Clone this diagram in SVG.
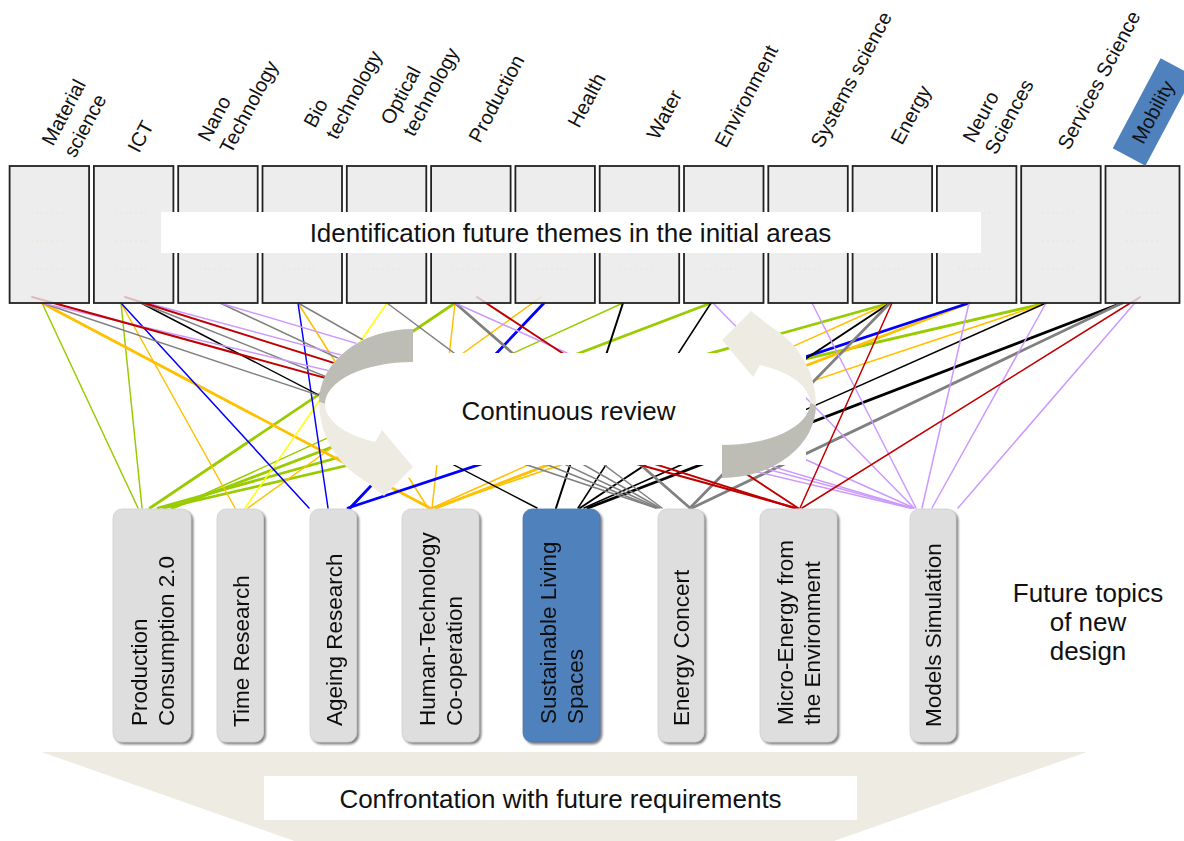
<svg xmlns="http://www.w3.org/2000/svg" width="1184" height="841" viewBox="0 0 1184 841">
  <defs>
    <style>
      .lbl { font-family: "Liberation Sans", Arial, sans-serif; font-size: 20px; fill: #111; }
      .big { font-family: "Liberation Sans", Arial, sans-serif; font-size: 26px; fill: #111; }
      .topic { font-family: "Liberation Sans", Arial, sans-serif; font-size: 22.5px; fill: #111; }
      .area { fill: #E8E8E8; fill-opacity: 0.8; stroke: #222; stroke-width: 1.8; }
      .dots { stroke: #E6E6D2; stroke-width: 1; stroke-dasharray: 2 3; }
      .node { fill: #DEDEDE; stroke: #D0D0D0; stroke-width: 0.8; }
      .node-hi { fill: #4F81BD; stroke: #4A78AE; stroke-width: 0.8; }
      #connectors line { fill: none; stroke-linecap: round; }
      .green { stroke: #99CC00; }
      .orange { stroke: #FFC000; }
      .yellow { stroke: #FFFF00; }
      .blue { stroke: #0000FF; }
      .black { stroke: #000000; }
      .grey { stroke: #808080; }
      .lav { stroke: #CC99FF; }
      .red { stroke: #C00000; }
      .w1 { stroke-width: 1.5; }
      .w2 { stroke-width: 2; }
      .w3 { stroke-width: 2.8; }
    </style>
    <filter id="shade" x="-10%" y="-5%" width="130%" height="115%">
      <feGaussianBlur in="SourceAlpha" stdDeviation="1.2"/>
      <feOffset dx="2" dy="2" result="off"/>
      <feFlood flood-color="#808080"/>
      <feComposite in2="off" operator="in"/>
      <feMerge><feMergeNode/><feMergeNode in="SourceGraphic"/></feMerge>
    </filter>
  </defs>

  <rect width="1184" height="841" fill="#FFFFFF"/>

  <!-- links between the initial areas and the future topics -->
  <g id="connectors">
    <!-- green: to Production Consumption 2.0 -->
    <line class="green w1" x1="42" y1="303" x2="138" y2="508"/>
    <line class="green w1" x1="121" y1="303" x2="142" y2="508"/>
    <line class="green w3" x1="455" y1="303" x2="150" y2="508"/>
    <line class="green w1" x1="623" y1="303" x2="174" y2="508"/>
    <line class="green w3" x1="711" y1="303" x2="172" y2="508"/>
    <line class="green w3" x1="890" y1="303" x2="158" y2="508"/>
    <line class="green w3" x1="1046" y1="303" x2="164" y2="508"/>
    <!-- orange / yellow: to Time Research and Human-Technology -->
    <line class="orange w3" x1="42" y1="303" x2="430" y2="508"/>
    <line class="orange w1" x1="121" y1="303" x2="235" y2="508"/>
    <line class="orange w1" x1="298" y1="303" x2="428" y2="508"/>
    <line class="orange w1" x1="455" y1="303" x2="432" y2="508"/>
    <line class="orange w1" x1="541" y1="297" x2="248" y2="508"/>
    <line class="orange w1" x1="890" y1="303" x2="432" y2="508"/>
    <line class="orange w3" x1="969" y1="303" x2="436" y2="508"/>
    <line class="orange w1" x1="1046" y1="303" x2="432" y2="508"/>
    <line class="yellow w1" x1="387" y1="303" x2="245" y2="508"/>
    <!-- blue: to Ageing Research -->
    <line class="blue w1" x1="121" y1="303" x2="309" y2="508"/>
    <line class="blue w1" x1="298" y1="303" x2="328" y2="508"/>
    <line class="blue w3" x1="544" y1="303" x2="350" y2="508"/>
    <line class="blue w3" x1="969" y1="303" x2="348" y2="508"/>
    <!-- black: to Sustainable Living Spaces -->
    <line class="black w1" x1="141" y1="303" x2="537" y2="508"/>
    <line class="black w2" x1="623" y1="303" x2="556" y2="508"/>
    <line class="black w1" x1="711" y1="303" x2="578" y2="508"/>
    <line class="black w2" x1="890" y1="303" x2="580" y2="508"/>
    <line class="black w1" x1="1046" y1="303" x2="584" y2="508"/>
    <line class="black w3" x1="1122" y1="303" x2="588" y2="508"/>
    <!-- grey: to Energy Concert -->
    <line class="grey w1" x1="42" y1="303" x2="656" y2="508"/>
    <line class="grey w1" x1="141" y1="303" x2="656" y2="508"/>
    <line class="grey w1" x1="220" y1="303" x2="658" y2="508"/>
    <line class="grey w1" x1="298" y1="303" x2="660" y2="508"/>
    <line class="grey w1" x1="387" y1="303" x2="662" y2="508"/>
    <line class="grey w3" x1="455" y1="303" x2="690" y2="508"/>
    <line class="grey w3" x1="890" y1="303" x2="690" y2="508"/>
    <line class="grey w3" x1="1122" y1="303" x2="692" y2="508"/>
    <!-- lavender: to Models Simulation -->
    <line class="lav w1" x1="42" y1="303" x2="910" y2="508"/>
    <line class="lav w1" x1="147" y1="303" x2="912" y2="508"/>
    <line class="lav w1" x1="220" y1="303" x2="912" y2="508"/>
    <line class="lav w1" x1="455" y1="303" x2="914" y2="508"/>
    <line class="lav w1" x1="713" y1="303" x2="914" y2="508"/>
    <line class="lav w1" x1="812" y1="303" x2="916" y2="508"/>
    <line class="lav w1" x1="969" y1="303" x2="922" y2="508"/>
    <line class="lav w1" x1="1046" y1="303" x2="932" y2="508"/>
    <line class="lav w1" x1="1140" y1="297" x2="958" y2="508"/>
    <!-- red: to Micro-Energy from the Environment -->
    <line class="red w2" x1="32" y1="297" x2="796" y2="508"/>
    <line class="red w2" x1="125" y1="297" x2="794" y2="508"/>
    <line class="red w2" x1="477" y1="297" x2="798" y2="508"/>
    <line class="red w1" x1="892" y1="303" x2="800" y2="508"/>
    <line class="red w1" x1="1140" y1="297" x2="802" y2="508"/>
  </g>

  <!-- initial areas -->
  <g id="area-material-science">
    <rect class="area" x="9.6" y="166" width="79.5" height="137"/>
    <text class="lbl" transform="translate(53 147) rotate(-62)"><tspan x="0" y="0">Material</tspan><tspan x="0" dy="25">science</tspan></text>
  </g>
  <g id="area-ict">
    <rect class="area" x="93.9" y="166" width="79.5" height="137"/>
    <text class="lbl" transform="translate(139 154) rotate(-62)">ICT</text>
  </g>
  <g id="area-nano-technology">
    <rect class="area" x="178.2" y="166" width="79.5" height="137"/>
    <text class="lbl" transform="translate(209 143) rotate(-62)"><tspan x="0" y="0">Nano</tspan><tspan x="0" dy="25">Technology</tspan></text>
  </g>
  <g id="area-bio-technology">
    <rect class="area" x="262.5" y="166" width="79.5" height="137"/>
    <text class="lbl" transform="translate(315 129) rotate(-62)"><tspan x="0" y="0">Bio</tspan><tspan x="0" dy="25">technology</tspan></text>
  </g>
  <g id="area-optical-technology">
    <rect class="area" x="346.8" y="166" width="79.5" height="137"/>
    <text class="lbl" transform="translate(392 126) rotate(-62)"><tspan x="0" y="0">Optical</tspan><tspan x="0" dy="25">technology</tspan></text>
  </g>
  <g id="area-production">
    <rect class="area" x="431.1" y="166" width="79.5" height="137"/>
    <text class="lbl" transform="translate(480 144) rotate(-62)">Production</text>
  </g>
  <g id="area-health">
    <rect class="area" x="515.4" y="166" width="79.5" height="137"/>
    <text class="lbl" transform="translate(579 129) rotate(-62)">Health</text>
  </g>
  <g id="area-water">
    <rect class="area" x="599.7" y="166" width="79.5" height="137"/>
    <text class="lbl" transform="translate(658 141) rotate(-62)">Water</text>
  </g>
  <g id="area-environment">
    <rect class="area" x="684" y="166" width="79.5" height="137"/>
    <text class="lbl" transform="translate(726 149) rotate(-62)">Environment</text>
  </g>
  <g id="area-systems-science">
    <rect class="area" x="768.3" y="166" width="79.5" height="137"/>
    <text class="lbl" transform="translate(822 149) rotate(-62)">Systems science</text>
  </g>
  <g id="area-energy">
    <rect class="area" x="852.6" y="166" width="79.5" height="137"/>
    <text class="lbl" transform="translate(902 146) rotate(-62)">Energy</text>
  </g>
  <g id="area-neuro-sciences">
    <rect class="area" x="936.9" y="166" width="79.5" height="137"/>
    <text class="lbl" transform="translate(974 144) rotate(-62)"><tspan x="0" y="0">Neuro</tspan><tspan x="0" dy="25">Sciences</tspan></text>
  </g>
  <g id="area-services-science">
    <rect class="area" x="1021.2" y="166" width="79.5" height="137"/>
    <text class="lbl" transform="translate(1069 151) rotate(-62)">Services Science</text>
  </g>
  <g id="area-mobility">
    <rect class="area" x="1105.5" y="166" width="74" height="137"/>
    <g transform="translate(1153 112) rotate(-62)">
      <rect x="-51" y="-18.5" width="102" height="37" fill="#4F81BD"/>
      <text class="lbl" x="0" y="7" text-anchor="middle">Mobility</text>
    </g>
  </g>

  <!-- faint guide dots inside the area columns -->
  <g id="area-dots">
    <path class="dots" d="M31 213H65M31 241H65M31 269H65M115 213H149M115 241H149M115 269H149M199 269H233M283 269H317M367 269H401M452 269H486M536 269H570M620 269H654M705 269H739M789 269H823M873 269H907M958 269H992M1042 269H1076M1126 269H1160M958 213H992M1042 213H1076M1126 213H1160M1042 241H1076M1126 241H1160"/>
  </g>

  <g id="identification-banner">
    <rect x="161" y="212" width="820" height="41" fill="#FFFFFF"/>
    <text class="big" x="570.5" y="241.5" text-anchor="middle">Identification future themes in the initial areas</text>
  </g>

  <!-- review cycle: two curved arrows around a white field -->
  <g id="continuous-review">
    <path d="M413,353 H806 V465 H413 Z M413,328 A94,75 0 0 0 413,478 Z" fill="#FFFFFF"/>
    <g id="arrow-right">
      <path d="M722,445 L722,478 A94,73 0 0 0 816,405 L810,403 A88,42 0 0 1 722,445 Z" fill="#BDBDB5"/>
      <path d="M816,405 A94,92 0 0 0 770,326 L751,311 L722,340 L753,377 L760,365 A88,42 0 0 1 810,403 Z" fill="#EDEBE2"/>
    </g>
    <g id="arrow-left" transform="rotate(180 567.5 403.5)">
      <path d="M722,445 L722,478 A94,73 0 0 0 816,405 L810,403 A88,42 0 0 1 722,445 Z" fill="#BDBDB5"/>
      <path d="M816,405 A94,92 0 0 0 770,326 L751,311 L722,340 L753,377 L760,365 A88,42 0 0 1 810,403 Z" fill="#EDEBE2"/>
    </g>
    <text class="big" x="568.5" y="420" text-anchor="middle">Continuous review</text>
  </g>

  <!-- future topics -->
  <g id="topic-production-consumption" filter="url(#shade)">
    <rect class="node" x="113" y="509" width="78" height="233" rx="9"/>
    <text class="topic" transform="translate(146.7 726) rotate(-90)"><tspan x="0" y="0">Production</tspan><tspan x="0" dy="27">Consumption 2.0</tspan></text>
  </g>
  <g id="topic-time-research" filter="url(#shade)">
    <rect class="node" x="217" y="509" width="46.5" height="233" rx="9"/>
    <text class="topic" transform="translate(248.5 727) rotate(-90)">Time Research</text>
  </g>
  <g id="topic-ageing-research" filter="url(#shade)">
    <rect class="node" x="310" y="509" width="46.7" height="233" rx="9"/>
    <text class="topic" transform="translate(341.6 726) rotate(-90)">Ageing Research</text>
  </g>
  <g id="topic-human-technology" filter="url(#shade)">
    <rect class="node" x="402" y="509" width="77" height="233" rx="9"/>
    <text class="topic" transform="translate(435.2 726) rotate(-90)"><tspan x="0" y="0">Human-Technology</tspan><tspan x="0" dy="27">Co-operation</tspan></text>
  </g>
  <g id="topic-sustainable-living" filter="url(#shade)">
    <rect class="node-hi" x="523" y="509" width="77" height="233" rx="9"/>
    <text class="topic" transform="translate(556.2 724) rotate(-90)"><tspan x="0" y="0">Sustainable Living</tspan><tspan x="0" dy="27">Spaces</tspan></text>
  </g>
  <g id="topic-energy-concert" filter="url(#shade)">
    <rect class="node" x="658" y="509" width="46" height="233" rx="9"/>
    <text class="topic" transform="translate(689.3 726) rotate(-90)">Energy Concert</text>
  </g>
  <g id="topic-micro-energy" filter="url(#shade)">
    <rect class="node" x="760" y="509" width="77" height="233" rx="9"/>
    <text class="topic" transform="translate(793.2 725) rotate(-90)"><tspan x="0" y="0">Micro-Energy from</tspan><tspan x="0" dy="27">the Environment</tspan></text>
  </g>
  <g id="topic-models-simulation" filter="url(#shade)">
    <rect class="node" x="910" y="509" width="46" height="233" rx="9"/>
    <text class="topic" transform="translate(941.3 727) rotate(-90)">Models Simulation</text>
  </g>

  <g id="future-topics-caption">
    <text class="big" text-anchor="middle"><tspan x="1088" y="601.5">Future topics</tspan><tspan x="1088" y="630.5">of new</tspan><tspan x="1088" y="659.5">design</tspan></text>
  </g>

  <!-- confrontation funnel -->
  <g id="confrontation">
    <polygon points="41.5,752 1087,752 834,841 294.5,841" fill="#EDEBE2"/>
    <rect x="264" y="776" width="593" height="44" fill="#FFFFFF"/>
    <text class="big" x="560.5" y="807.5" text-anchor="middle">Confrontation with future requirements</text>
  </g>
</svg>
